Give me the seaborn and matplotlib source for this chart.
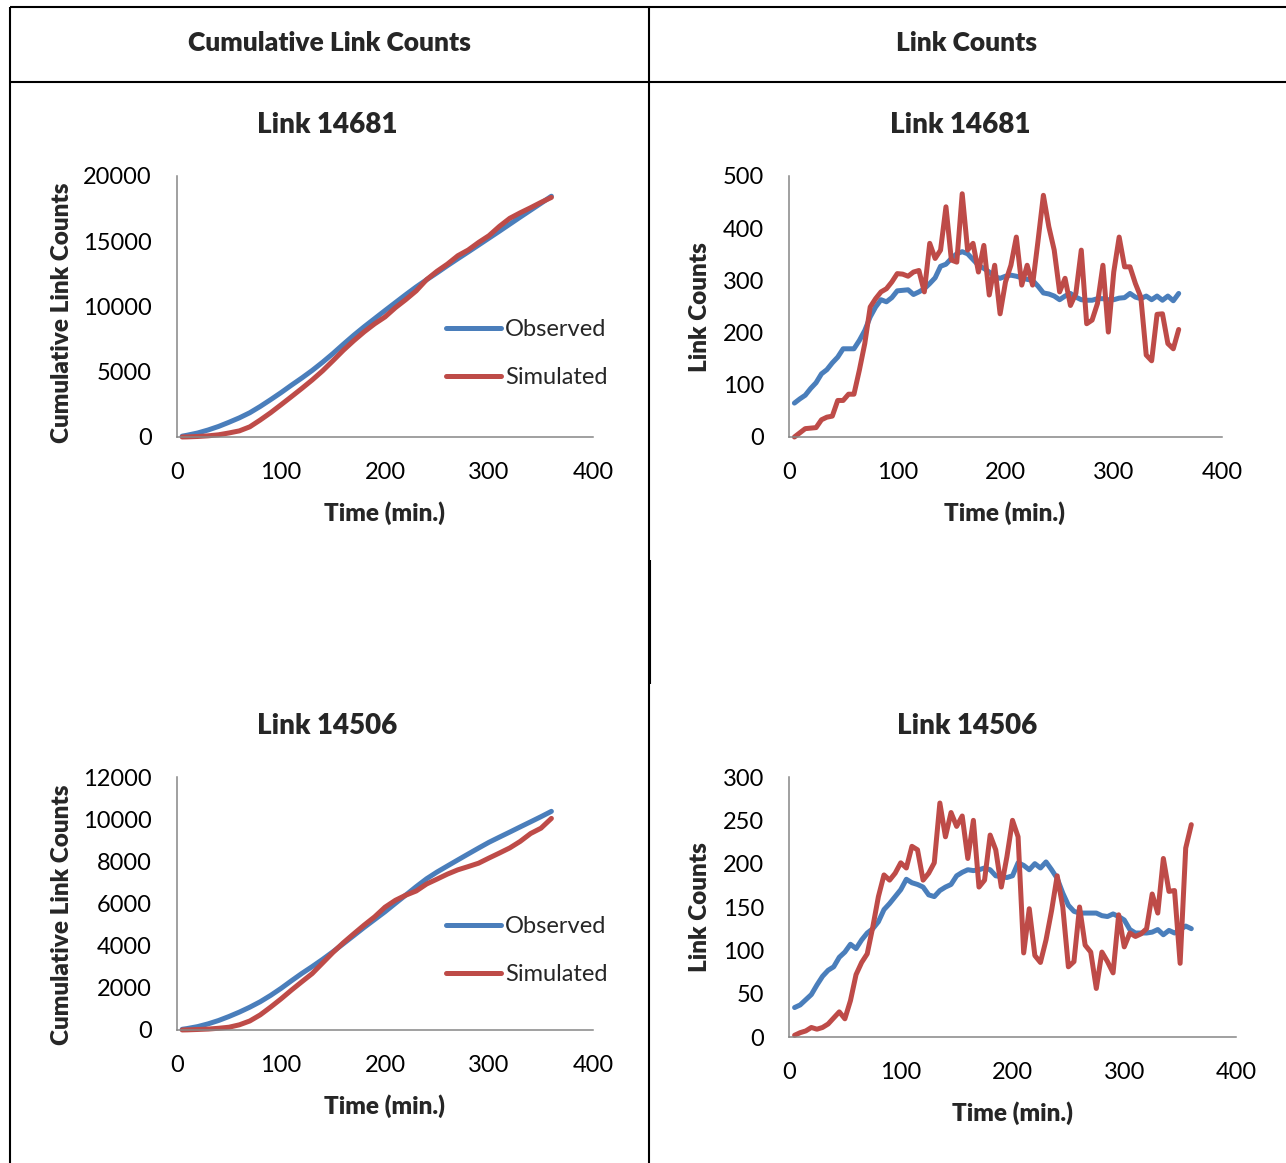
import matplotlib
matplotlib.use("Agg")
import matplotlib.pyplot as plt
import seaborn as sns
import pandas as pd

sns.set_style("white")
plt.rcParams['font.family'] = ['Lato', 'DejaVu Sans']

W, H, DPI = 1286, 1163, 100
BLUE = '#4A7EBB'
RED = '#BE4B48'
BOLD = 'heavy'

# ---------------- data ----------------
time_counts = [5, 10, 15, 20, 25, 30, 35, 40, 45, 50, 55, 60, 65, 70, 75, 80, 85, 90,
               95, 100, 105, 110, 115, 120, 125, 130, 135, 140, 145, 150, 155, 160, 165, 170, 175, 180,
               185, 190, 195, 200, 205, 210, 215, 220, 225, 230, 235, 240, 245, 250, 255, 260, 265, 270,
               275, 280, 285, 290, 295, 300, 305, 310, 315, 320, 325, 330, 335, 340, 345, 350, 355, 360]

obs_14681 = [65, 73, 80, 93, 104, 121, 129, 142, 153, 169, 169, 169, 185, 204, 230, 249, 263, 259,
             267, 280, 281, 282, 273, 278, 284, 294, 305, 327, 331, 342, 351, 355, 351, 340, 329, 323,
             316, 307, 304, 308, 310, 308, 305, 302, 300, 289, 276, 274, 270, 263, 270, 275, 268, 263,
             262, 262, 265, 265, 263, 263, 266, 267, 275, 268, 265, 270, 263, 270, 262, 270, 261, 275]
sim_14681 = [0, 8, 16, 17, 18, 33, 38, 40, 70, 70, 82, 82, 128, 179, 249, 265, 278, 284,
             297, 313, 312, 308, 316, 319, 278, 371, 342, 358, 441, 339, 335, 466, 358, 371, 316, 367,
             272, 329, 236, 297, 329, 383, 291, 329, 291, 375, 463, 403, 358, 278, 304, 252, 275, 358,
             217, 224, 256, 329, 201, 316, 383, 326, 326, 294, 268, 157, 146, 235, 236, 179, 169, 206]
obs_14506 = [34, 37, 43, 49, 60, 70, 77, 81, 92, 98, 107, 102, 112, 120, 125, 133, 147, 154,
             162, 170, 182, 178, 176, 173, 164, 162, 169, 173, 176, 186, 190, 193, 192, 193, 195, 193,
             186, 185, 184, 186, 201, 198, 193, 200, 195, 202, 193, 183, 166, 152, 145, 143, 143, 143,
             143, 140, 139, 142, 139, 135, 124, 120, 120, 120, 121, 124, 118, 123, 120, 124, 128, 125]
sim_14506 = [2, 5, 7, 11, 9, 11, 15, 22, 29, 21, 42, 72, 86, 96, 127, 162, 187, 181,
             189, 201, 195, 220, 216, 181, 189, 201, 270, 231, 259, 243, 255, 206, 250, 173, 181, 233,
             216, 173, 208, 250, 231, 97, 148, 94, 86, 112, 146, 186, 150, 81, 87, 150, 106, 98,
             56, 98, 87, 74, 141, 104, 120, 116, 119, 125, 165, 143, 206, 168, 169, 85, 218, 245]

time_cum = [5, 10, 20, 30, 40, 50, 60, 70, 80, 90, 100, 110, 120, 130, 140, 150, 160, 170, 180,
            190, 200, 210, 220, 230, 240, 250, 260, 270, 280, 290, 300, 310, 320, 330, 340, 350, 360]
cum_obs_14681 = [65, 140, 310, 540, 810, 1130, 1470, 1860, 2340, 2860, 3400, 3970, 4520, 5100,
                 5730, 6400, 7110, 7800, 8450, 9070, 9690, 10300, 10910, 11500, 12050, 12580, 13130,
                 13660, 14180, 14710, 15240, 15770, 16310, 16850, 17380, 17910, 18450]
cum_sim_14681 = [0, 8, 40, 90, 170, 310, 470, 780, 1300, 1860, 2470, 3090, 3720, 4370,
                 5070, 5850, 6650, 7380, 8060, 8670, 9200, 9910, 10530, 11200, 12060, 12700, 13250,
                 13890, 14330, 14910, 15430, 16140, 16760, 17180, 17570, 17980, 18360]
cum_obs_14506 = [34, 71, 163, 293, 451, 641, 850, 1082, 1340, 1641, 1973, 2333, 2682, 3008,
                 3350, 3712, 4095, 4480, 4868, 5239, 5609, 6008, 6401, 6798, 7174, 7492, 7780,
                 8066, 8349, 8630, 8904, 9148, 9388, 9633, 9874, 10118, 10371]
cum_sim_14506 = [2, 7, 25, 45, 82, 132, 246, 428, 717, 1085, 1475, 1890, 2287, 2677,
                 3178, 3680, 4141, 4564, 4978, 5367, 5825, 6153, 6395, 6593, 6925, 7156, 7393,
                 7597, 7751, 7912, 8157, 8393, 8637, 8945, 9319, 9573, 10036]

series_names = ['Observed', 'Simulated']
header_labels = ['Cumulative Link Counts', 'Link Counts']
link_titles = ['Link 14681', 'Link 14506']
x_ticks = [0, 100, 200, 300, 400]


def long_df(t, a, b):
    return pd.DataFrame({
        'Time': list(t) + list(t),
        'Value': list(a) + list(b),
        'Series': [series_names[0]] * len(t) + [series_names[1]] * len(t),
    })


fig = plt.figure(figsize=(W / DPI, H / DPI), dpi=DPI)

# ---------------- table frame ----------------
bg = fig.add_axes([0, 0, 1, 1], zorder=-5)
bg.set_xlim(0, W)
bg.set_ylim(H, 0)
bg.axis('off')
lw_tab = 1.5
bg.hlines([7, 81.5], 10, W, colors='black', lw=lw_tab)
bg.vlines(10, 7, H, colors='black', lw=lw_tab)
bg.vlines(648.5, 7, H, colors='black', lw=lw_tab)
bg.vlines(649.5, 560, 684, colors='black', lw=lw_tab)


def px_rect(l, r, t, b):
    return [l / W, 1 - b / H, (r - l) / W, (b - t) / H]


def ftext(x, y, s, **kw):
    fig.text(x / W, 1 - y / H, s, ha='center', va='center', **kw)


ftext(329, 43, header_labels[0], fontsize=19, fontweight=BOLD)
ftext(967, 43, header_labels[1], fontsize=19, fontweight=BOLD)

panels = [
    dict(rect=px_rect(177, 593, 176, 437), t=time_cum, a=cum_obs_14681, b=cum_sim_14681,
         ymax=20000, ystep=5000, title=link_titles[0], tpos=(327, 125),
         ylabel='Cumulative Link Counts', ylpos=(62, 313), xlpos=(385, 513), legend=(446, 319)),
    dict(rect=px_rect(789, 1222, 176, 437), t=time_counts, a=obs_14681, b=sim_14681,
         ymax=500, ystep=100, title=link_titles[0], tpos=(960, 125),
         ylabel='Link Counts', ylpos=(700, 307), xlpos=(1005, 513), legend=None),
    dict(rect=px_rect(177, 593, 777, 1030), t=time_cum, a=cum_obs_14506, b=cum_sim_14506,
         ymax=12000, ystep=2000, title=link_titles[1], tpos=(327, 726),
         ylabel='Cumulative Link Counts', ylpos=(62, 915), xlpos=(385, 1106), legend=(446, 916)),
    dict(rect=px_rect(789, 1236, 777, 1037), t=time_counts, a=obs_14506, b=sim_14506,
         ymax=300, ystep=50, title=link_titles[1], tpos=(967, 726),
         ylabel='Link Counts', ylpos=(700, 907), xlpos=(1012, 1113), legend=None),
]

for p in panels:
    ax = fig.add_axes(p['rect'])
    df = long_df(p['t'], p['a'], p['b'])
    sns.lineplot(data=df, x='Time', y='Value', hue='Series', hue_order=series_names,
                 palette={series_names[0]: BLUE, series_names[1]: RED},
                 linewidth=3.6, errorbar=None, legend=False, ax=ax)
    for ln in ax.get_lines():
        ln.set_clip_on(False)
        ln.set_solid_capstyle('round')
        ln.set_solid_joinstyle('round')
    ax.set_xlim(0, 400)
    ax.set_xticks(x_ticks)
    ax.set_ylim(0, p['ymax'])
    ax.set_yticks(list(range(0, p['ymax'] + 1, p['ystep'])))
    ax.set_xlabel('')
    ax.set_ylabel('')
    for s in ['top', 'right']:
        ax.spines[s].set_visible(False)
    for s in ['left', 'bottom']:
        ax.spines[s].set_visible(True)
        ax.spines[s].set_color('#868686')
        ax.spines[s].set_linewidth(1.1)
    ax.tick_params(axis='both', direction='out', length=4, width=1.1, color='#868686',
                   labelsize=17, labelcolor='black')
    ax.tick_params(axis='y', pad=14)
    ax.tick_params(axis='x', pad=14)
    ax.patch.set_alpha(0)

    ftext(*p['tpos'], p['title'], fontsize=20, fontweight=BOLD)
    ftext(*p['ylpos'], p['ylabel'], fontsize=17.5, fontweight=BOLD, rotation=90)
    ftext(*p['xlpos'], 'Time (min.)', fontsize=17.5, fontweight=BOLD)

    if p['legend'] is not None:
        lx, ly = p['legend']
        ax.legend(ax.get_lines()[:2], series_names, loc='upper left',
                  bbox_to_anchor=(lx / W, 1 - ly / H), bbox_transform=fig.transFigure,
                  frameon=False, fontsize=17, handlelength=2.35, handletextpad=0.15,
                  labelspacing=1.15, borderpad=0, borderaxespad=0)

fig.savefig('out.png', dpi=DPI)
